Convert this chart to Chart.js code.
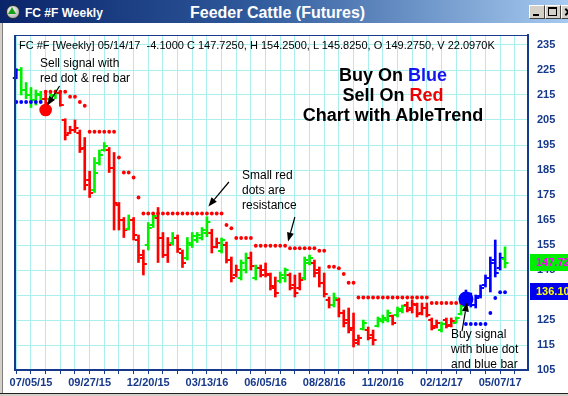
<!DOCTYPE html>
<html><head><meta charset="utf-8">
<script src="https://cdn.jsdelivr.net/npm/chart.js@4.4.1/dist/chart.umd.min.js"></script>
<style>
html,body{margin:0;padding:0;}
body{width:568px;height:396px;overflow:hidden;position:relative;background:#fff;font-family:Arial,"Liberation Sans",sans-serif;}
#c{position:absolute;left:0;top:0;}
.abs{position:absolute;white-space:pre;}
#tb{position:absolute;left:0;top:0;width:568px;height:23px;background:linear-gradient(to right,#0a246a 0%,#2f5a9c 45%,#a6caf0 100%);}
.btn{position:absolute;top:5px;width:14px;height:12px;background:#d4d0c8;border-top:1px solid #fff;border-left:1px solid #fff;border-right:1px solid #404040;border-bottom:1px solid #404040;}
</style></head>
<body>
<canvas id="c" width="568" height="396"></canvas>
<div id="tb"></div>
<div style="position:absolute;left:6px;top:5px;width:12px;height:12px;border-radius:50%;background:radial-gradient(circle at 40% 35%,#ffffff,#9a9a9a);border:1px solid #303030;"></div>
<div style="position:absolute;left:8px;top:7px;width:0;height:0;border-left:4px solid transparent;border-right:4px solid transparent;border-bottom:7px solid #16a016;"></div>
<div class="abs" style="left:25px;top:6px;font:bold 12px/14px Arial,'Liberation Sans';color:#fff">FC #F Weekly</div>
<div class="abs" style="left:190px;top:4px;font:bold 16px/18px Arial,'Liberation Sans';color:#fff">Feeder Cattle (Futures)</div>
<div class="btn" style="left:529px"><div style="position:absolute;left:3px;top:8px;width:6px;height:2px;background:#000"></div></div>
<div class="btn" style="left:545px"><div style="position:absolute;left:2px;top:1px;width:7px;height:6px;border:1px solid #000;border-top-width:2px"></div></div>
<div class="btn" style="left:561px"><div style="position:absolute;left:2px;top:5px;width:9px;height:2px;background:#000;transform:rotate(45deg)"></div><div style="position:absolute;left:2px;top:5px;width:9px;height:2px;background:#000;transform:rotate(-45deg)"></div></div>
<div style="position:absolute;left:0;top:23px;width:2px;height:373px;background:#d4d0c8"></div>
<div style="position:absolute;left:2px;top:23px;width:1px;height:373px;background:#808080"></div>
<div style="position:absolute;left:0;top:393px;width:568px;height:1px;background:#202020"></div>
<div style="position:absolute;left:0;top:394px;width:568px;height:2px;background:#d4d0c8"></div>

<div class="abs" style="left:19px;top:39px;font:11px/13px Arial,'Liberation Sans';color:#000">FC #F [Weekly] 05/14/17  -4.1000 C 147.7250, H 154.2500, L 145.8250, O 149.2750, V 22.0970K</div>
<div class="abs" style="left:293px;top:65px;width:200px;text-align:center;font:bold 18px/20px Arial,'Liberation Sans';color:#000">Buy On <span style="color:#1414f0">Blue</span>
Sell On <span style="color:#f00000">Red</span>
Chart with AbleTrend</div>
<div class="abs" style="left:40px;top:56px;font:12px/15px Arial,'Liberation Sans';color:#000">Sell signal with
red dot &amp; red bar</div>
<div class="abs" style="left:242px;top:168px;font:12px/15px Arial,'Liberation Sans';color:#000">Small red
dots are
resistance</div>
<div class="abs" style="left:451px;top:327px;font:12px/15px Arial,'Liberation Sans';color:#000">Buy signal
with blue dot
and blue bar</div>

<script>
// ---- data ----
const tickLabels = ['07/05/15','09/27/15','12/20/15','03/13/16','06/05/16','08/28/16','11/20/16','02/12/17','05/07/17'];
const yTicks = [105,115,125,135,145,155,165,175,185,195,205,215,225,235];

const high = [225.5,226,220,218,217,216.5,216,216,217,216.5,
  205.5,202.5,205,201,198,184.5,190,193,196,194,
  192,172,166,167,166,159,153,164,168,170,
  160,158,160,159,153,158,160,160,162,166.3,
  161.3,157.8,157.8,156.2,150.2,147,149,151.8,152.2,147,
  147,147.8,143.8,142.2,144.2,145.8,143.8,143,143.8,150.2,
  151,149,146.2,143.8,134.2,135.8,133.8,129,129.8,127.8,
  119,125,122.2,121,126.2,127,129,127,130.2,131,
  132.2,133,131.8,131.8,131.8,125.8,125,124.2,125.8,125.8,
  126.2,131,137,135.8,135,139,143,150.2,157,151.8,
  154.25];
const low = [221.5,215,213.5,210,211,212,211,213,213.5,210.5,
  197,199.5,200,192,177,174,176,187,192.5,184,
  161,161,158,161,157,148,143,153,162,148,
  150,148,155,152,146,149,154,156,157,158.3,
  151.8,153.8,151.8,147.8,140.2,142.2,141,143.8,145,141,
  142.2,142.2,137,134.2,139.8,140.2,137,134.2,137,141,
  147,142.2,138.2,134.2,129.8,130.2,126.2,122.2,119.8,114.2,
  115,121,117,115,122.2,123.8,124.2,123,126.2,127.8,
  128.2,127.8,126.2,127,126.2,121,121.8,120.2,121.8,122.2,
  123.8,127,131,130.2,129.8,133.8,138.2,136.2,142.2,145,
  145.825];
const open = [222,225,217,215,213,215,213.5,213.5,215,216,
  205,200,201,200,194,181,177,188,193,193,
  186,171,165,161.5,165,157,150,155,163,166,
  158,151,156,158,152,150,155,157,158,160,
  160,154,152.5,155,149,143,142,145,150,142,
  146,145,143,138,140.5,142,143,139,138,142,
  148,148,145,140,133,131,133,128,125,122,
  116,121.5,121,119,122.5,124.5,125,126.5,127,128.5,
  131,130,131,128,130,125,122.5,121,125,123,
  124,127.5,132,134,131,134.5,139,142,149,146,
  149.275];
const close = [225,217,215,213,215.5,213.5,212,215,216,211,
  199,201,202,193.5,179,176,184,191,194.5,186,
  172,165,161,165,159,151,147.5,162,166.5,158,
  151,155,158,153.5,148,156,158.5,159,161,164,
  154,156,157,149,142,145,148,150,146.5,146,
  143,143.5,138.5,136,143,145,138,136,141,149,
  150,144,140,135.5,131,134,128,124,121,117,
  118,124,118,117,125.5,126,128,124,129.5,130.5,
  129,131.5,127.5,130,127,122,124,123.5,122.5,124.5,
  125.8,130.5,136,131,134,138,142,148,144,150,
  147.725];
// trend state of each bar: B = buy (blue), G = neutral (green), R = sell (red)
const trend = ['B','G','G','G','G','G','R','G','G','R',
  'R','R','R','R','R','R','G','G','G','R',
  'R','R','R','G','R','R','R','G','G','R',
  'R','R','G','R','R','G','G','G','G','G',
  'R','R','G','R','R','R','G','G','R','G',
  'R','R','R','R','G','G','R','R','R','G',
  'G','R','R','R','R','G','R','R','R','R',
  'R','G','R','R','G','G','G','R','G','G',
  'R','R','R','R','R','R','R','G','R','R',
  'G','G','B','B','B','B','B','B','B','B',
  'G'];
// small red resistance dots
const resist = [null,null,null,null,null,null,216.3,216.3,216.3,216.3,
  216.3,214.3,214.3,212.2,210.7,200.3,200.3,200.3,200.3,200.3,
  200.3,190,184,184,182,174,167.6,167.6,167.6,167.6,
  167.6,167.6,167.6,167.6,167.6,167.6,167.6,167.6,167.6,167.6,
  167.6,167.6,167.6,163,161.7,157.8,157.8,157.8,157.8,154.7,
  154.7,154.7,154.7,154.7,154.7,154.7,153.7,153.7,153.7,153.7,
  153.7,153.7,152.7,152.7,146.3,146.3,145.7,143.4,139.9,139.9,
  134,134,134,134,134,134,134,134,134,134,
  134,134,134,134,134,131.8,131.8,131.8,131.8,131.8,
  131.8,131.8,null,null,null,null,null,null,null,null,
  null];
// small blue support dots
const support = [212.2,212.2,212.2,212.2,212.2,212.2,null,null,null,null,
  null,null,null,null,null,null,null,null,null,null,
  null,null,null,null,null,null,null,null,null,null,
  null,null,null,null,null,null,null,null,null,null,
  null,null,null,null,null,null,null,null,null,null,
  null,null,null,null,null,null,null,null,null,null,
  null,null,null,null,null,null,null,null,null,null,
  null,null,null,null,null,null,null,null,null,null,
  null,null,null,null,null,null,null,null,null,null,
  null,null,123.4,123.4,123.4,123.4,123.4,127.8,133.8,136.1,
  136.1];
// big signal dots
const signalIdx = [6, 92];
const signalVal = [209, 133.4];
const signalType = ['R', 'B'];

// ---- styling ----
const palette = {R:'#ff0000', G:'#00f000', B:'#0000ff'};
const navy = '#17398a';
const gridCol = '#aaeeee';
const FONT = 'Arial, "Liberation Sans", sans-serif';
Chart.defaults.font.family = FONT;

// annotation arrows in data coordinates [x0,y0,x1,y1] (tail -> head)
const arrows = [[8.85,218.6,6.35,210.8],[43.5,180.2,39.3,170.4],[57.0,166.2,55.6,156.4],[91.2,120.5,92.2,132.0]];

const ohlcTicks = {
  id:'ohlcTicks',
  afterDatasetDraw(chart, args){
    if (args.index !== 0) return;
    const {ctx, scales:{x, y}} = chart;
    ctx.save();
    ctx.lineWidth = 2;
    for (let i = 0; i < high.length; i++){
      const px = x.getPixelForValue(i);
      const yo = Math.round(y.getPixelForValue(open[i]));
      const yc = Math.round(y.getPixelForValue(close[i]));
      ctx.strokeStyle = palette[trend[i]];
      ctx.beginPath();
      ctx.moveTo(px - 3.5, yo); ctx.lineTo(px, yo);
      ctx.moveTo(px, yc); ctx.lineTo(px + 3.5, yc);
      ctx.stroke();
    }
    ctx.restore();
  }
};

const decor = {
  id:'decor',
  afterDraw(chart){
    const {ctx, chartArea:a, scales:{x, y}} = chart;
    ctx.save();
    // frame left & top
    ctx.strokeStyle = navy;
    ctx.lineWidth = 2;
    ctx.beginPath(); ctx.moveTo(a.left, a.top); ctx.lineTo(a.left, a.bottom); ctx.stroke();
    ctx.lineWidth = 1;
    ctx.beginPath(); ctx.moveTo(a.left, a.top + 0.5); ctx.lineTo(a.right, a.top + 0.5); ctx.stroke();
    // arrows
    ctx.strokeStyle = '#000'; ctx.fillStyle = '#000'; ctx.lineWidth = 1.2;
    arrows.forEach(([x0,y0,x1,y1]) => {
      const p0x = x.getPixelForValue(x0), p0y = y.getPixelForValue(y0);
      const p1x = x.getPixelForValue(x1), p1y = y.getPixelForValue(y1);
      const ang = Math.atan2(p1y - p0y, p1x - p0x);
      const hl = 9, hw = 3.5;
      const bx = p1x - hl*Math.cos(ang), by = p1y - hl*Math.sin(ang);
      ctx.beginPath(); ctx.moveTo(p0x, p0y); ctx.lineTo(bx, by); ctx.stroke();
      ctx.beginPath();
      ctx.moveTo(p1x, p1y);
      ctx.lineTo(bx + hw*Math.sin(ang), by - hw*Math.cos(ang));
      ctx.lineTo(bx - hw*Math.sin(ang), by + hw*Math.cos(ang));
      ctx.closePath(); ctx.fill();
    });
    // last price / stop boxes
    const boxes = [
      {v: close[close.length-1], bg:'#00ee00', fg:'#ff00ff'},
      {v: support[support.length-1], bg:'#0000ee', fg:'#ffff00'}
    ];
    ctx.font = 'bold 11px ' + FONT;
    ctx.textBaseline = 'middle';
    ctx.textAlign = 'left';
    boxes.forEach(b => {
      const py = y.getPixelForValue(b.v);
      ctx.fillStyle = b.bg;
      ctx.fillRect(a.right + 2, Math.round(py) - 9, 40, 17);
      ctx.fillStyle = b.fg;
      ctx.fillText(b.v.toFixed(2), a.right + 8, py);
    });
    ctx.restore();
  }
};

const idx = high.map((_, i) => i);
new Chart(document.getElementById('c'), {
  type:'bar',
  data:{
    datasets:[
      {type:'bar', data: idx.map(i => ({x:i, y:[low[i], high[i]]})),
       backgroundColor: trend.map(t => palette[t]), barThickness:2, borderWidth:0, order:3},
      {type:'line', data: idx.map(i => ({x:i, y:resist[i]})), showLine:false,
       pointRadius:1.9, pointBorderWidth:0, pointBackgroundColor:'#ff0000', order:2},
      {type:'line', data: idx.map(i => ({x:i, y:support[i]})), showLine:false,
       pointRadius:1.9, pointBorderWidth:0, pointBackgroundColor:'#0000ff', order:2},
      {type:'line', data: signalIdx.map((s, k) => ({x:s, y:signalVal[k]})), showLine:false,
       pointRadius:[6.3, 7.5], pointBorderWidth:0,
       pointBackgroundColor: signalType.map(t => palette[t]), order:1}
    ]
  },
  options:{
    responsive:false, animation:false, events:[],
    layout:{padding:{left:15, top:35, right:0, bottom:0}},
    plugins:{legend:{display:false}, tooltip:{enabled:false}},
    scales:{
      x:{type:'linear', min:-0.27, max:104.7, offset:false,
        grid:{offset:false, color:gridCol, lineWidth:1, drawTicks:true, tickLength:4, tickColor:navy},
        border:{display:true, color:navy, width:2},
        afterBuildTicks(s){ const t=[]; for (let v=0; v<=102; v+=3) t.push({value:v}); s.ticks=t; },
        afterFit(s){ s.height = 26; },
        ticks:{autoSkip:false, maxRotation:0, minRotation:0, padding:2, color:navy,
          font:{size:11, weight:'bold', family:FONT},
          callback(v){ return ((v-3)%12===0 && v>=3) ? tickLabels[(v-3)/12] : ''; }}
      },
      y:{type:'linear', position:'right', min:105, max:239,
        grid:{color:gridCol, lineWidth:1, drawTicks:false},
        border:{display:true, color:navy, width:2},
        afterBuildTicks(s){ s.ticks = yTicks.map(v => ({value:v})); },
        afterFit(s){ s.width = 40; },
        ticks:{padding:9, color:navy, font:{size:11, weight:'bold', family:FONT}}
      }
    }
  },
  plugins:[ohlcTicks, decor]
});
</script>
</body></html>
